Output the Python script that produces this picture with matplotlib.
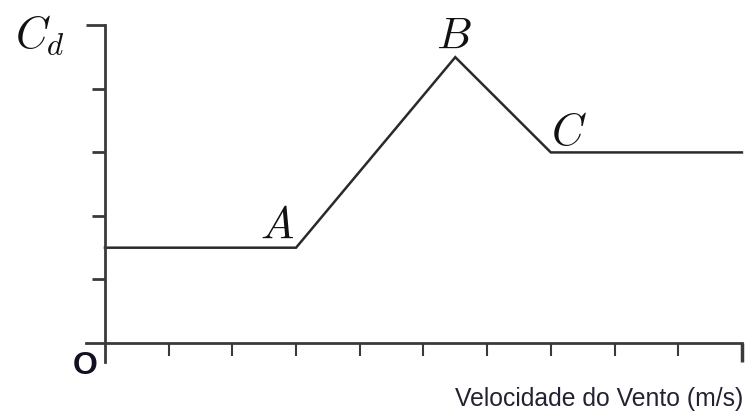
import matplotlib
matplotlib.use("Agg")
import matplotlib.pyplot as plt
from matplotlib import font_manager

plt.rcParams['mathtext.fontset'] = 'cm'

# drag coefficient against wind speed
speed = [0, 3, 5.5, 7, 10]
cd = [1.5, 1.5, 4.5, 3, 3]

point_names = ['A', 'B', 'C']
point_pos = [(2.70, 1.65), (5.48, 4.63), (7.28, 3.12)]

x_ticks = [1, 2, 3, 4, 5, 6, 7, 8, 9]
y_ticks = [1, 2, 3, 4]

names = {f.name for f in font_manager.fontManager.ttflist}
narrow = 'Liberation Sans Narrow' if 'Liberation Sans Narrow' in names else 'Liberation Sans'
label_size = 20 if narrow == 'Liberation Sans Narrow' else 17.8

fig = plt.figure(figsize=(7.47, 4.16), dpi=100)
ax = fig.add_axes([0, 0, 1, 1])
ax.set_xlim(-1.648, 10.08)
ax.set_ylim(-1.15, 5.40)

ink = '#3a3a3a'
ax.plot(speed, cd, color='#2a2a2a', lw=1.8, solid_joinstyle='miter')

for s in ['top', 'right']:
    ax.spines[s].set_visible(False)
for s in ['left', 'bottom']:
    ax.spines[s].set_position(('data', 0))
    ax.spines[s].set_color(ink)
    ax.spines[s].set_linewidth(2)
ax.spines['left'].set_bounds(-0.3, 5)
ax.spines['bottom'].set_bounds(-0.3, 10)

ax.set_xticks(x_ticks)
ax.set_xticks([10], minor=True)
ax.set_yticks(y_ticks)
ax.set_yticks([5], minor=True)
ax.tick_params(axis='x', which='major', direction='out', length=9.5, width=1.5,
               color=ink, labelbottom=False)
ax.tick_params(axis='x', which='minor', direction='out', length=13.5, width=2.5,
               color=ink, labelbottom=False)
ax.tick_params(axis='y', which='major', direction='out', length=9.5, width=2,
               color=ink, labelleft=False)
ax.tick_params(axis='y', which='minor', direction='out', length=14, width=2,
               color=ink, labelleft=False)

for name, (px, py) in zip(point_names, point_pos):
    ax.text(px, py, f'${name}$', fontsize=32, ha='center', va='baseline', color='#111111')

fig.text(15 / 747, 1 - 47 / 416, '$C_d$', fontsize=32, ha='left', va='baseline', color='#111111')
fig.text(85 / 747, 1 - 374 / 416, 'O', fontsize=23, fontweight='bold',
         family='Liberation Sans', ha='center', va='baseline', color='#111122')
fig.text(743 / 747, 1 - 406 / 416, 'Velocidade do Vento (m/s)', fontsize=label_size,
         family=narrow, ha='right', va='baseline', color='#222233')

fig.savefig('out.png', dpi=100)
